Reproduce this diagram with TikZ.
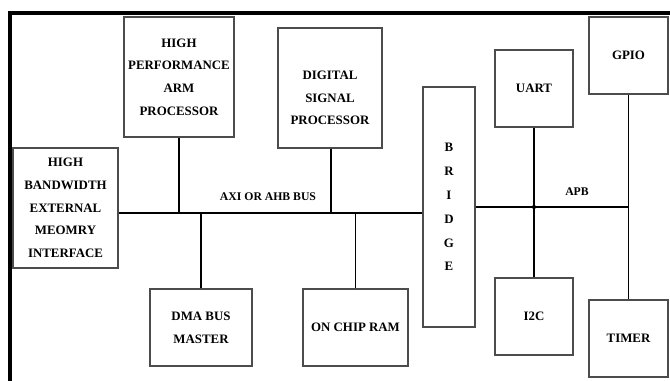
\documentclass[tikz,border=0pt]{standalone}
\usepackage{fontspec}
\setmainfont{Liberation Serif}
\usepackage{tikz}
\colorlet{boxline}{black!70}
\tikzset{
  block/.style={draw=boxline, line width=0.9pt, fill=white, align=center,
    inner sep=1pt, font=\bfseries\fontsize{11}{19.3}\selectfont},
  bus/.style={line width=1.6pt},
  tap/.style={line width=1.1pt},
}

\begin{document}
\begin{tikzpicture}[x=0.03cm, y=-0.03cm]
\useasboundingbox (0,0) rectangle (670,380);
% frame
\draw[line width=3.6pt] (10,382) -- (10,13) -- (672,13);
% AXI side
\node[block, minimum width=3.15cm, minimum height=3.6cm] (mem) at (65.5,208)
  {HIGH\\BANDWIDTH\\EXTERNAL\\MEOMRY\\INTERFACE};
\node[block, minimum width=3.3cm, minimum height=3.6cm] (arm) at (179,77)
  {HIGH\\PERFORMANCE\\ARM\\PROCESSOR};
\node[block, minimum width=3.12cm, minimum height=3.6cm,
  label={[align=center, yshift=-0.3cm, font=\bfseries\fontsize{11}{19.3}\selectfont]center:DIGITAL\\SIGNAL\\PROCESSOR}] (dsp) at (330,88) {};
\node[block, minimum width=3.06cm, minimum height=2.31cm] (dma) at (201,327.5)
  {DMA BUS\\MASTER};
\node[block, minimum width=3.15cm, minimum height=2.31cm] (ram) at (355.5,327.5)
  {ON CHIP RAM};
\node[block, minimum width=1.56cm, minimum height=7.2cm, font=\bfseries\fontsize{11}{20.4}\selectfont] (bridge) at (449,207)
  {B\\R\\I\\D\\G\\E};
% APB side
\node[block, minimum width=2.34cm, minimum height=2.31cm] (uart) at (534,88.5) {UART};
\node[block, minimum width=2.37cm, minimum height=2.31cm] (gpio) at (628.5,55.5) {GPIO};
\node[block, minimum width=2.34cm, minimum height=2.31cm] (i2c) at (534,316.5) {I2C};
\node[block, minimum width=2.37cm, minimum height=2.31cm] (timer) at (628.5,338.5) {TIMER};

\coordinate (axibus) at (0,213);
\draw[bus] (mem.east |- axibus) -- (bridge.west |- axibus);
\node[font=\bfseries\fontsize{10}{12}\selectfont] (axilabel) at (268,197) {AXI OR AHB BUS};
\draw[tap] (arm.south) -- (arm.south |- axibus);
\draw[tap] ([xshift=0.03cm]dsp.south) -- ([xshift=0.03cm]dsp.south |- axibus);
\draw[tap] (dma.north) -- (dma.north |- axibus);
\draw[tap] (ram.north) -- (ram.north |- axibus);

\draw[bus] (bridge.east) -- (bridge.east -| gpio.south);
\node[font=\bfseries\fontsize{10}{12}\selectfont] (apblabel) at (577,192) {APB};
\draw[tap] (uart.south) -- (i2c.north);
\draw[tap] (gpio.south) -- (timer.north);
\fill (uart.south |- bridge.east) circle (1.8pt);
\end{tikzpicture}
\end{document}
